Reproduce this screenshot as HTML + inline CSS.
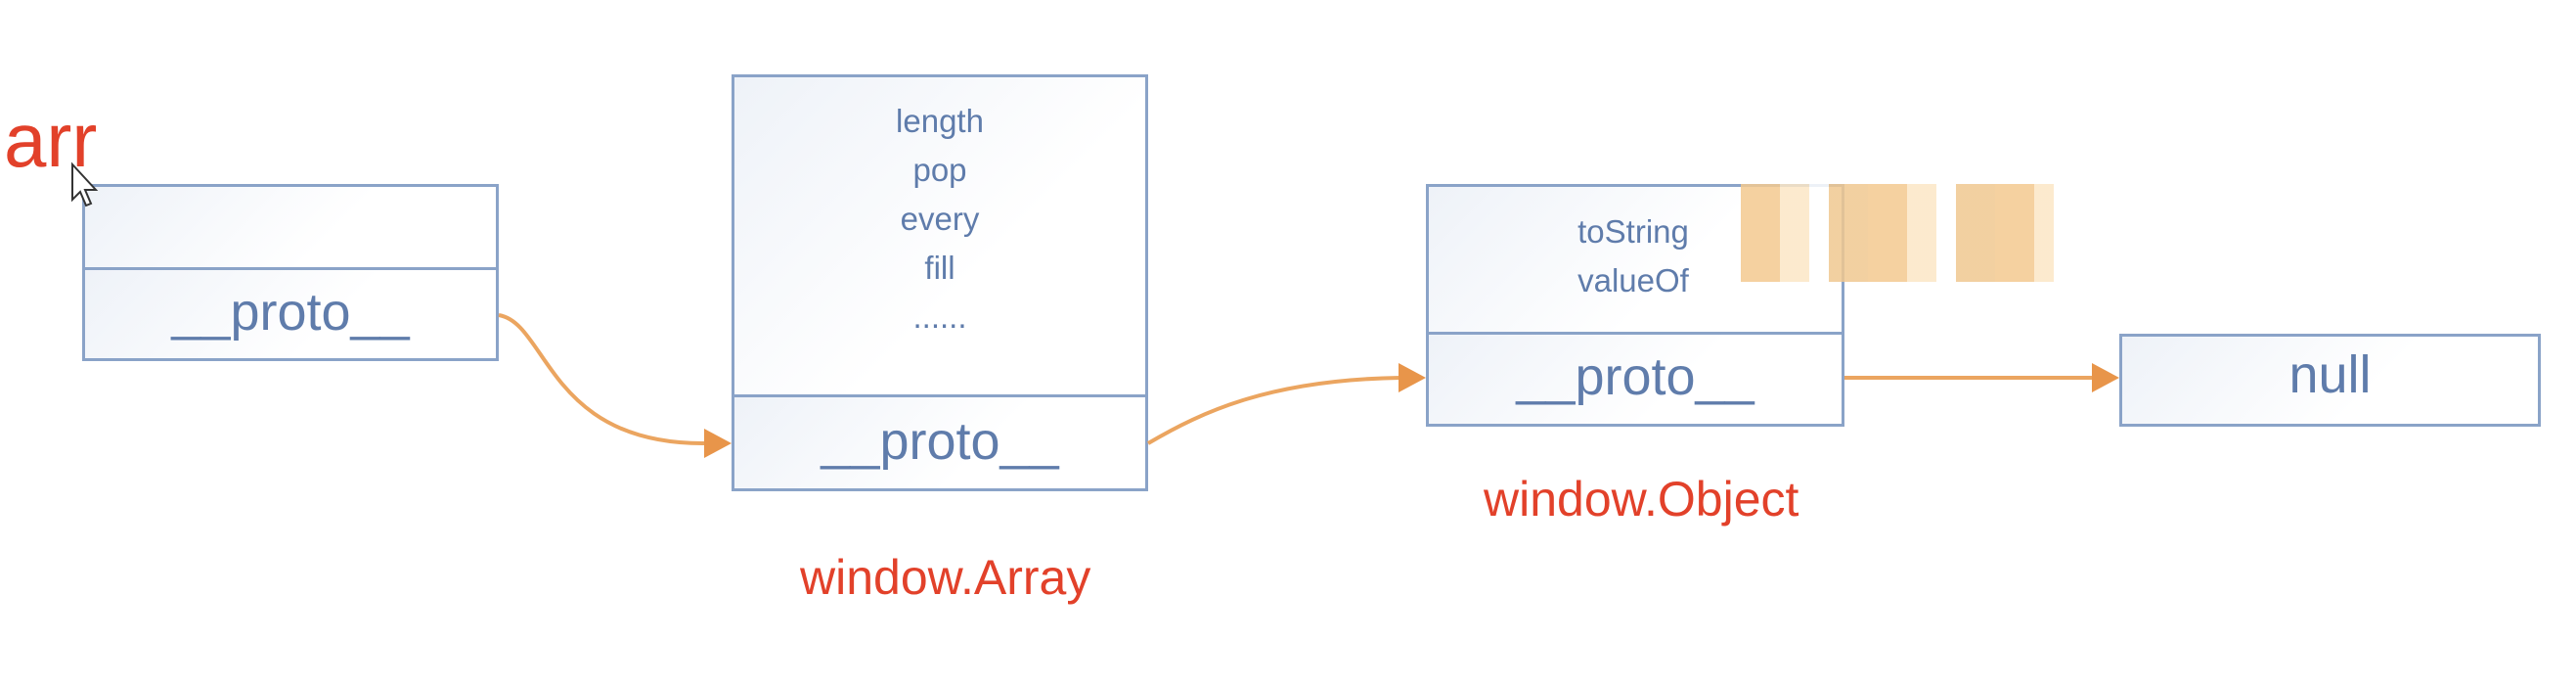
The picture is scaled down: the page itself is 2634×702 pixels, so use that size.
<!DOCTYPE html>
<html><head><style>
body{margin:0;width:2634px;height:702px;background:#fff;overflow:hidden;position:relative;font-family:"Liberation Sans",sans-serif}
.b{position:absolute;border:3px solid #8aa3c8;background:linear-gradient(135deg,#eef2f8,#fff 60%);box-sizing:border-box}
.t{position:absolute;color:#5f7cab;text-align:center;white-space:nowrap}
.r{position:absolute;color:#e2412a;white-space:nowrap}
</style></head><body>
<div class="r" style="left:4px;top:98px;font-size:78px">arr</div>
<div class="b" style="left:84px;top:188px;width:426px;height:88px"></div>
<div class="b" style="left:84px;top:273px;width:426px;height:96px"></div>
<div class="t" style="left:84px;top:288px;width:426px;font-size:54px">__proto__</div>

<div class="b" style="left:748px;top:76px;width:426px;height:330px"></div>
<div class="b" style="left:748px;top:403px;width:426px;height:99px"></div>
<div class="t" style="left:748px;top:99px;width:426px;font-size:33px;line-height:50px">length<br>pop<br>every<br>fill<br>......</div>
<div class="t" style="left:748px;top:420px;width:426px;font-size:54px">__proto__</div>
<div class="r" style="left:818px;top:561px;font-size:50px">window.Array</div>

<div class="b" style="left:1458px;top:188px;width:428px;height:154px"></div>
<div class="b" style="left:1458px;top:339px;width:428px;height:97px"></div>
<div class="t" style="left:1590px;top:212px;width:160px;font-size:33px;line-height:50px">toString<br>valueOf</div>
<div class="t" style="left:1458px;top:354px;width:428px;font-size:54px">__proto__</div>
<div class="r" style="left:1517px;top:481px;font-size:50px">window.Object</div>
<div style="position:absolute;left:1780px;top:188px;width:320px;height:100px;background:repeating-linear-gradient(90deg,#f3c98f 0 40px,#fbe6c6 40px 70px,#fff 70px 90px,#f0c890 90px 130px);opacity:.85"></div>

<div class="b" style="left:2167px;top:341px;width:431px;height:95px"></div>
<div class="t" style="left:2167px;top:352px;width:431px;font-size:54px">null</div>

<svg width="2634" height="702" style="position:absolute;left:0;top:0">
<g fill="none" stroke="#eba560" stroke-width="4">
<path d="M510 322 C560 330 560 455 722 453"/>
<path d="M1174 453 C1230 420 1300 388 1432 386"/>
<path d="M1886 386 L2141 386"/>
</g>
<g fill="#e8954a">
<polygon points="748,453 720,438 720,468"/>
<polygon points="1458,386 1430,371 1430,401"/>
<polygon points="2167,386 2139,371 2139,401"/>
</g>
<polygon points="74,168 74,204 82,196 88,210 93,208 87,194 98,194" fill="#fff" stroke="#333" stroke-width="2"/>
</svg>
</body></html>
